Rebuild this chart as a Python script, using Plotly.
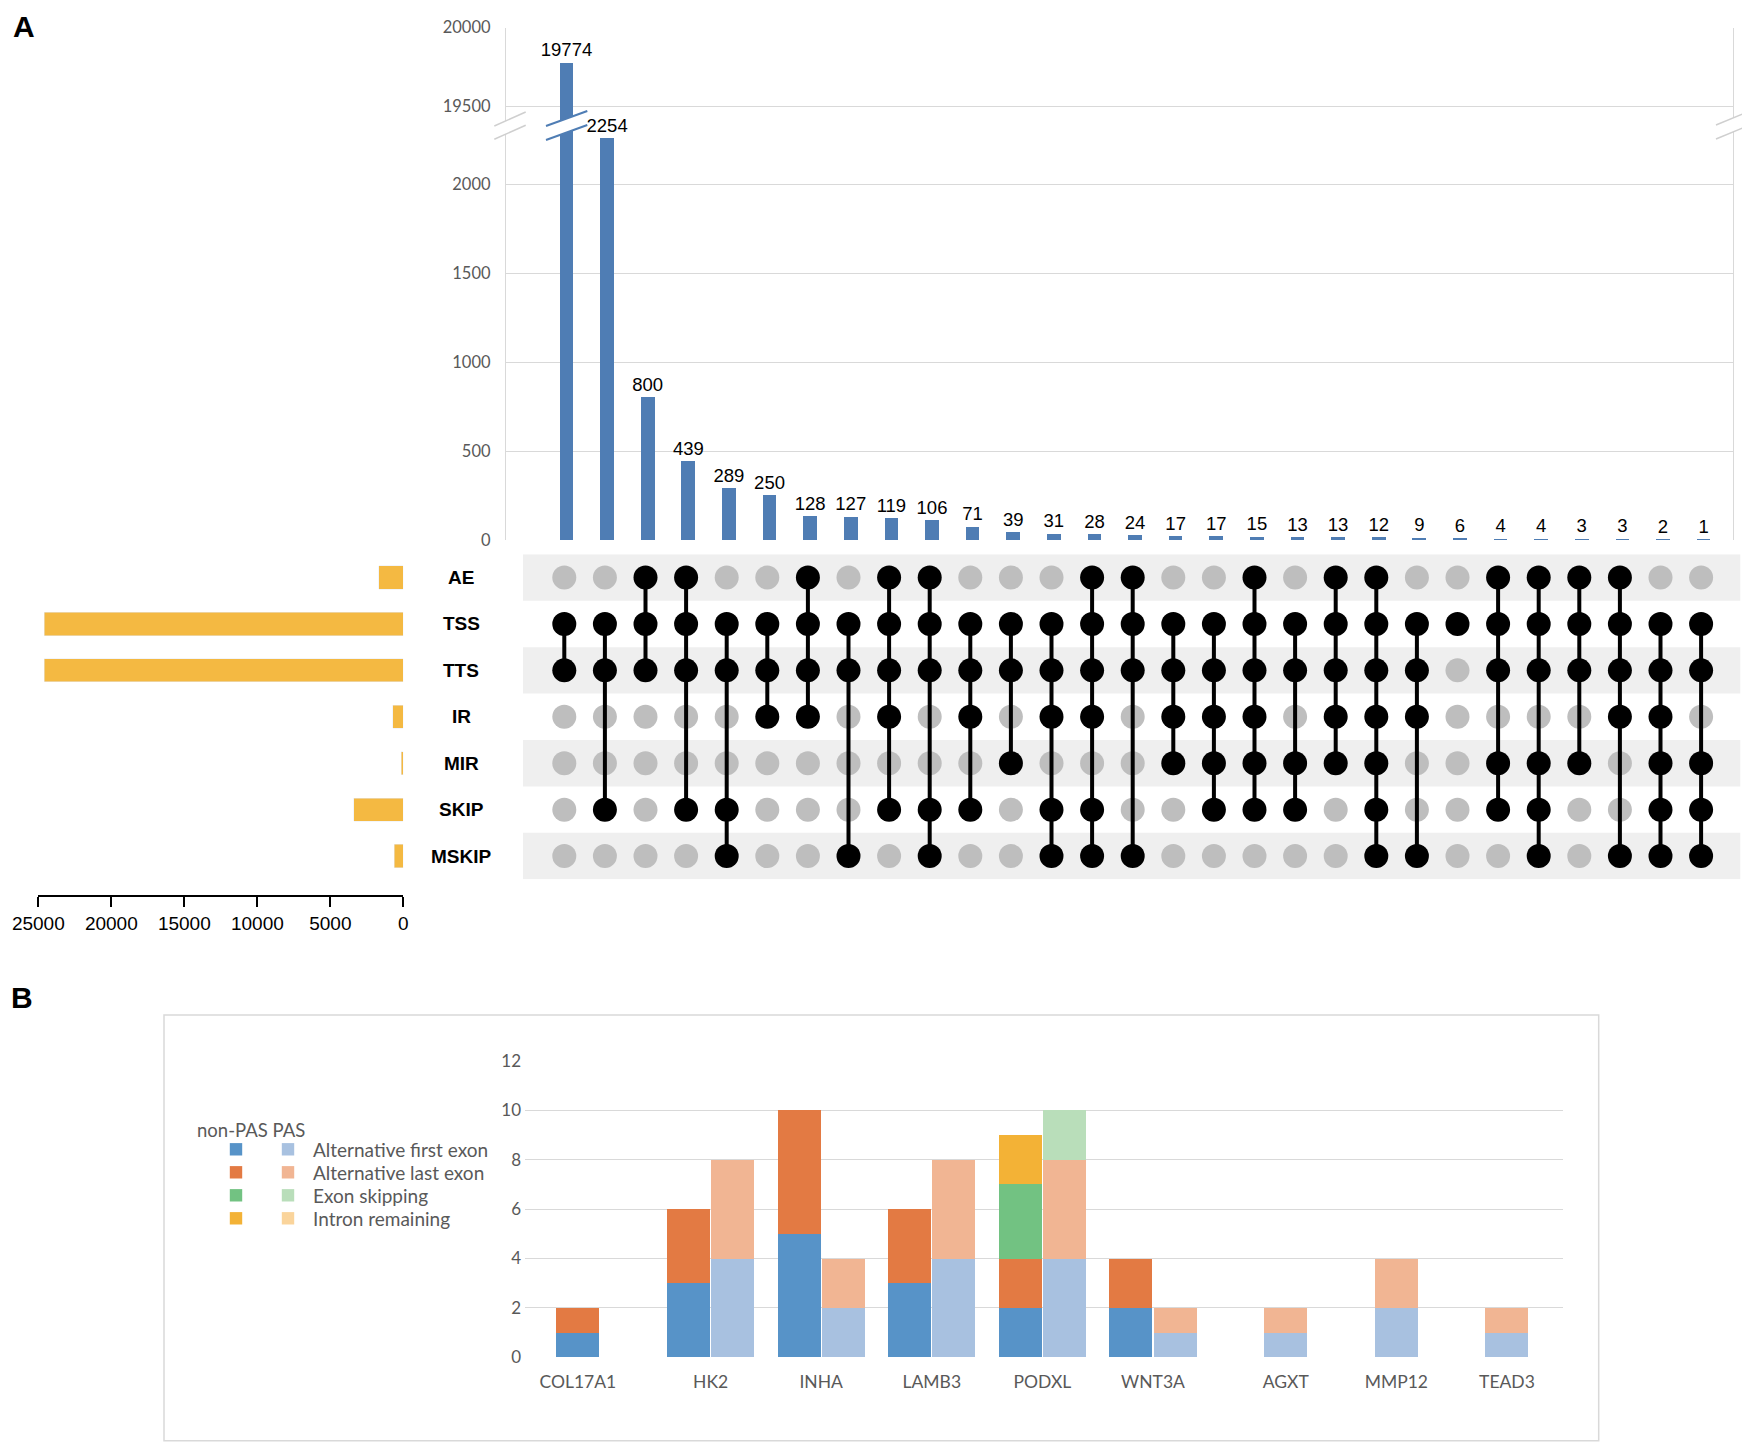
import plotly.graph_objects as go

W, H = 1750, 1443
PAGE_OFF = 8  # the page body margin shifts the figure; coordinates below are page pixels

# ---------------- Panel A data ----------------
sets = ["AE", "TSS", "TTS", "IR", "MIR", "SKIP", "MSKIP"]
set_sizes = [1698, 24598, 24592, 715, 140, 3405, 636]
size_ticks = [25000, 20000, 15000, 10000, 5000, 0]

intersection_counts = [19774, 2254, 800, 439, 289, 250, 128, 127, 119, 106, 71, 39, 31,
                       28, 24, 17, 17, 15, 13, 13, 12, 9, 6, 4, 4, 3, 3, 2, 1]
intersection_members = [
    ["TSS", "TTS"],
    ["TSS", "TTS", "SKIP"],
    ["AE", "TSS", "TTS"],
    ["AE", "TSS", "TTS", "SKIP"],
    ["TSS", "TTS", "SKIP", "MSKIP"],
    ["TSS", "TTS", "IR"],
    ["AE", "TSS", "TTS", "IR"],
    ["TSS", "TTS", "MSKIP"],
    ["AE", "TSS", "TTS", "IR", "SKIP"],
    ["AE", "TSS", "TTS", "SKIP", "MSKIP"],
    ["TSS", "TTS", "IR", "SKIP"],
    ["TSS", "TTS", "MIR"],
    ["TSS", "TTS", "IR", "SKIP", "MSKIP"],
    ["AE", "TSS", "TTS", "IR", "SKIP", "MSKIP"],
    ["AE", "TSS", "TTS", "MSKIP"],
    ["TSS", "TTS", "IR", "MIR"],
    ["TSS", "TTS", "IR", "MIR", "SKIP"],
    ["AE", "TSS", "TTS", "IR", "MIR", "SKIP"],
    ["TSS", "TTS", "MIR", "SKIP"],
    ["AE", "TSS", "TTS", "IR", "MIR"],
    ["AE", "TSS", "TTS", "IR", "MIR", "SKIP", "MSKIP"],
    ["TSS", "TTS", "IR", "MSKIP"],
    ["TSS"],
    ["AE", "TSS", "TTS", "MIR", "SKIP"],
    ["AE", "TSS", "TTS", "MIR", "SKIP", "MSKIP"],
    ["AE", "TSS", "TTS", "MIR"],
    ["AE", "TSS", "TTS", "IR", "MSKIP"],
    ["TSS", "TTS", "IR", "MIR", "SKIP", "MSKIP"],
    ["TSS", "TTS", "MIR", "SKIP", "MSKIP"],
]
lower_ticks = [0, 500, 1000, 1500, 2000]
upper_ticks = [19500, 20000]

# ---------------- Panel B data ----------------
genes = ["COL17A1", "HK2", "INHA", "LAMB3", "PODXL", "WNT3A", "AGXT", "MMP12", "TEAD3"]
event_types = ["Alternative first exon", "Alternative last exon", "Exon skipping", "Intron remaining"]
nonpas_afe = [1, 3, 5, 3, 2, 2, None, None, None]
nonpas_ale = [1, 3, 5, 3, 2, 2, None, None, None]
nonpas_es = [None, None, None, None, 3, None, None, None, None]
nonpas_ir = [None, None, None, None, 2, None, None, None, None]
pas_afe = [None, 4, 2, 4, 4, 1, 1, 2, 1]
pas_ale = [None, 4, 2, 4, 4, 1, 1, 2, 1]
pas_es = [None, None, None, None, 2, None, None, None, None]
pas_ir = [None, None, None, None, None, None, None, None, None]
b_ticks = [0, 2, 4, 6, 8, 10, 12]

nonpas_colors = ["#5793c8", "#e37a43", "#72c282", "#f3b236"]
pas_colors = ["#a8c1e0", "#f1b593", "#b9deba", "#fad49b"]

# ---------------- styling ----------------
ARIAL = "Liberation Sans, Arial, sans-serif"
CAL = "Lato, Carlito, Calibri, sans-serif"
BLUE = "#4f7db4"
GOLD = "#f4b942"
GRID = "#d9d9d9"
TXTGRAY = "#595959"


def px(x):
    return (x - PAGE_OFF) / W


def py(y):
    return 1 - (y - PAGE_OFF) / H


fig = go.Figure()

# ---- intersection bars (broken axis) ----
cols = list(range(len(intersection_counts)))
fig.add_trace(go.Bar(x=cols[:1], y=intersection_counts[:1], xaxis="x", yaxis="y",
                     width=0.3, marker=dict(color=BLUE, line=dict(color=BLUE, width=1.5)),
                     showlegend=False, hoverinfo="skip"))
fig.add_trace(go.Bar(x=cols[1:], y=intersection_counts[1:], xaxis="x", yaxis="y",
                     width=0.3, marker=dict(color=BLUE, line=dict(color=BLUE, width=1.5)),
                     text=[str(v) for v in intersection_counts[1:]], textposition="outside",
                     textfont=dict(family=ARIAL, size=18.5, color="black"),
                     constraintext="none", cliponaxis=False, showlegend=False))
fig.add_trace(go.Bar(x=cols[:1], y=intersection_counts[:1], xaxis="x", yaxis="y2",
                     width=0.3, marker=dict(color=BLUE, line=dict(color=BLUE, width=1.5)),
                     text=[str(intersection_counts[0])], textposition="outside",
                     textfont=dict(family=ARIAL, size=18.5, color="black"),
                     constraintext="none", cliponaxis=False, showlegend=False))

# ---- matrix ----
gx, gy, bx, by, lx, ly = [], [], [], [], [], []
for c, mem in enumerate(intersection_members):
    rows = [sets.index(s) for s in mem]
    for r in range(len(sets)):
        if r in rows:
            bx.append(c); by.append(r)
        else:
            gx.append(c); gy.append(r)
    if len(rows) > 1:
        lx += [c, c, None]
        ly += [min(rows), max(rows), None]

fig.add_trace(go.Scatter(x=gx, y=gy, xaxis="x3", yaxis="y3", mode="markers",
                         marker=dict(size=24, color="#bebebe", line=dict(width=0)),
                         showlegend=False, hoverinfo="skip"))
fig.add_trace(go.Scatter(x=lx, y=ly, xaxis="x3", yaxis="y3", mode="lines",
                         line=dict(color="black", width=4), showlegend=False, hoverinfo="skip"))
fig.add_trace(go.Scatter(x=bx, y=by, xaxis="x3", yaxis="y3", mode="markers",
                         marker=dict(size=24, color="black", line=dict(width=0)),
                         showlegend=False, hoverinfo="skip"))

# ---- set size bars ----
fig.add_trace(go.Bar(x=set_sizes, y=list(range(len(sets))), orientation="h",
                     xaxis="x4", yaxis="y4", width=0.5, marker=dict(color=GOLD),
                     showlegend=False))

# ---- Panel B stacked grouped bars ----
OFF, BW = 0.2, 0.39
left_x = [g - OFF for g in range(len(genes))]
right_x = [g + OFF for g in range(len(genes))]
for vals, col, name in zip([nonpas_afe, nonpas_ale, nonpas_es, nonpas_ir], nonpas_colors, event_types):
    fig.add_trace(go.Bar(x=left_x, y=vals, xaxis="x5", yaxis="y5", width=BW,
                         marker=dict(color=col, line=dict(width=0)), name="non-PAS " + name,
                         showlegend=False))
for vals, col, name in zip([pas_afe, pas_ale, pas_es, pas_ir], pas_colors, event_types):
    fig.add_trace(go.Bar(x=right_x, y=vals, xaxis="x5", yaxis="y5", width=BW,
                         marker=dict(color=col, line=dict(width=0)), name="PAS " + name,
                         showlegend=False))

label_pos = []
for g in range(len(genes)):
    pos = []
    if any(v is not None for v in (nonpas_afe[g], nonpas_ale[g], nonpas_es[g], nonpas_ir[g])):
        pos.append(g - OFF)
    if any(v is not None for v in (pas_afe[g], pas_ale[g], pas_es[g], pas_ir[g])):
        pos.append(g + OFF)
    label_pos.append(sum(pos) / len(pos))

# ---------------- layout ----------------
bar_step = 40.61
bar_x0 = 566.5
mat_step = 40.6
mat_x0 = 564.3
ax_common = dict(showgrid=True, gridcolor=GRID, gridwidth=1.3, zeroline=False,
                 showline=True, linecolor=GRID, linewidth=1.3, mirror=True, ticks="",
                 tickfont=dict(family=CAL, size=16.5, color=TXTGRAY), ticklabelstandoff=11,
                 fixedrange=True)

lower_top_val = (540 - 126) / ((540 - 184) / 2000)
upper_bot_val = 19500 - (126 - 106.7) / ((106.7 - 27.7) / 500)

fig.update_layout(
    width=W, height=H, autosize=False,
    margin=dict(l=0, r=0, t=0, b=0, pad=0, autoexpand=False),
    paper_bgcolor="white", plot_bgcolor="rgba(0,0,0,0)",
    barmode="stack", showlegend=False,
    xaxis=dict(domain=[px(506), px(1733)],
               range=[(506 - bar_x0) / bar_step, (1733 - bar_x0) / bar_step],
               showticklabels=False, showgrid=False, zeroline=False, showline=False,
               ticks="", anchor="y", fixedrange=True),
    yaxis=dict(domain=[py(540), py(126)], range=[0, lower_top_val], tickvals=lower_ticks,
               ticktext=[str(v) for v in lower_ticks], anchor="x", **ax_common),
    yaxis2=dict(domain=[py(126), py(27.7)], range=[upper_bot_val, 20000], tickvals=upper_ticks,
                ticktext=[str(v) for v in upper_ticks], anchor="x", **ax_common),
    xaxis3=dict(domain=[px(523), px(1740.5)],
                range=[(523 - mat_x0) / mat_step, (1740.5 - mat_x0) / mat_step],
                visible=False, anchor="y3", fixedrange=True),
    yaxis3=dict(domain=[py(879.3), py(554.3)], range=[len(sets) - 0.5, -0.5],
                visible=False, anchor="x3", fixedrange=True),
    xaxis4=dict(domain=[px(38.3), px(403.4)], range=[25000, 0], anchor="free",
                position=py(895.7), showline=True, linecolor="black", linewidth=2,
                ticks="outside", ticklen=10, tickwidth=2, tickcolor="black",
                tickvals=size_ticks, ticktext=[str(v) for v in size_ticks],
                tickfont=dict(family=ARIAL, size=19, color="black"),
                showgrid=False, zeroline=False, fixedrange=True),
    yaxis4=dict(domain=[py(879.3), py(554.3)], range=[len(sets) - 0.5, -0.5],
                visible=False, anchor="x4", fixedrange=True),
    xaxis5=dict(domain=[px(525), px(1563)],
                range=[(525 - 600) / 110.6, (1563 - 600) / 110.6],
                tickvals=label_pos, ticktext=genes, showgrid=False, zeroline=False,
                showline=False, ticks="", anchor="y5", ticklabelstandoff=12,
                tickfont=dict(family=CAL, size=17.5, color=TXTGRAY), fixedrange=True),
    yaxis5=dict(domain=[py(1357.3), py(1061)], range=[0, 12], tickvals=b_ticks,
                ticktext=[str(v) for v in b_ticks],
                showgrid=True, gridcolor=GRID, gridwidth=1.3, zeroline=False, showline=False,
                ticks="", anchor="x5", ticklabelstandoff=3,
                tickfont=dict(family=CAL, size=17, color=TXTGRAY), fixedrange=True),
)

shapes = []
# alternating matrix bands
x3r = [(523 - mat_x0) / mat_step, (1740.5 - mat_x0) / mat_step]
for r in range(0, len(sets), 2):
    shapes.append(dict(type="rect", xref="x3", yref="y3", x0=x3r[0], x1=x3r[1],
                       y0=r - 0.5, y1=r + 0.5, fillcolor="#efefef", line=dict(width=0),
                       layer="below"))


def poly(points, fill, line_w=0, line_c=None):
    d = "M " + " L ".join(f"{px(a):.5f},{py(b):.5f}" for a, b in points) + " Z"
    return dict(type="path", xref="paper", yref="paper", path=d, fillcolor=fill,
                line=dict(width=line_w, color=line_c or fill), layer="above")


def seg(x0, y0, x1, y1, color, w):
    return dict(type="line", xref="paper", yref="paper", x0=px(x0), y0=py(y0),
                x1=px(x1), y1=py(y1), line=dict(color=color, width=w), layer="above")


# axis break marks (left axis, bar, right border)
for (xa, xb, ya1, yb1, ya2, yb2, col, w) in [
    (494.3, 525.7, 126, 112, 139.3, 125.3, "#cfcfcf", 1.5),
    (546, 587.3, 126, 111, 140, 125, BLUE, 2),
    (1716, 1750, 125, 111, 139, 125, "#cfcfcf", 1.5),
]:
    shapes.append(poly([(xa, ya1), (xb, yb1), (xb, yb2), (xa, ya2)], "white"))
    shapes.append(seg(xa, ya1, xb, yb1, col, w))
    shapes.append(seg(xa, ya2, xb, yb2, col, w))

# panel B frame
shapes.append(dict(type="rect", xref="paper", yref="paper", x0=px(164), x1=px(1598.7),
                   y0=py(1440.7), y1=py(1015), line=dict(color=GRID, width=1.5),
                   fillcolor="rgba(0,0,0,0)", layer="below"))

# panel B legend swatches
leg_rows = [1149.3, 1172.3, 1195.3, 1218.3]
for yy, c1, c2 in zip(leg_rows, nonpas_colors, pas_colors):
    for xc, c in ((236, c1), (288, c2)):
        shapes.append(dict(type="rect", xref="paper", yref="paper", x0=px(xc - 6.2),
                           x1=px(xc + 6.2), y0=py(yy + 6.2), y1=py(yy - 6.2),
                           fillcolor=c, line=dict(width=0), layer="above"))

annotations = []
annotations.append(dict(text="<b>A</b>", x=px(23.5), y=py(9), xref="paper", yref="paper",
                        showarrow=False, font=dict(family=ARIAL, size=30, color="black"),
                        xanchor="center", yanchor="top", borderpad=0))
annotations.append(dict(text="<b>B</b>", x=px(22), y=py(997.5), xref="paper", yref="paper",
                        showarrow=False, font=dict(family=ARIAL, size=30, color="black"),
                        xanchor="center", yanchor="middle"))
for r, s in enumerate(sets):
    annotations.append(dict(text=f"<b>{s}</b>", x=px(461), y=r, xref="paper", yref="y3",
                            showarrow=False, font=dict(family=ARIAL, size=19, color="black"),
                            xanchor="center", yanchor="middle"))
annotations.append(dict(text="non-PAS PAS", x=px(195), y=py(1130), xref="paper", yref="paper",
                        showarrow=False, font=dict(family=CAL, size=18.5, color=TXTGRAY),
                        xanchor="left", yanchor="middle"))
for yy, name in zip(leg_rows, event_types):
    annotations.append(dict(text=name, x=px(310.8), y=py(yy), xref="paper", yref="paper",
                            showarrow=False, font=dict(family=CAL, size=19, color=TXTGRAY),
                            xanchor="left", yanchor="middle"))

fig.update_layout(shapes=shapes, annotations=annotations)

fig.write_html("out.html")
